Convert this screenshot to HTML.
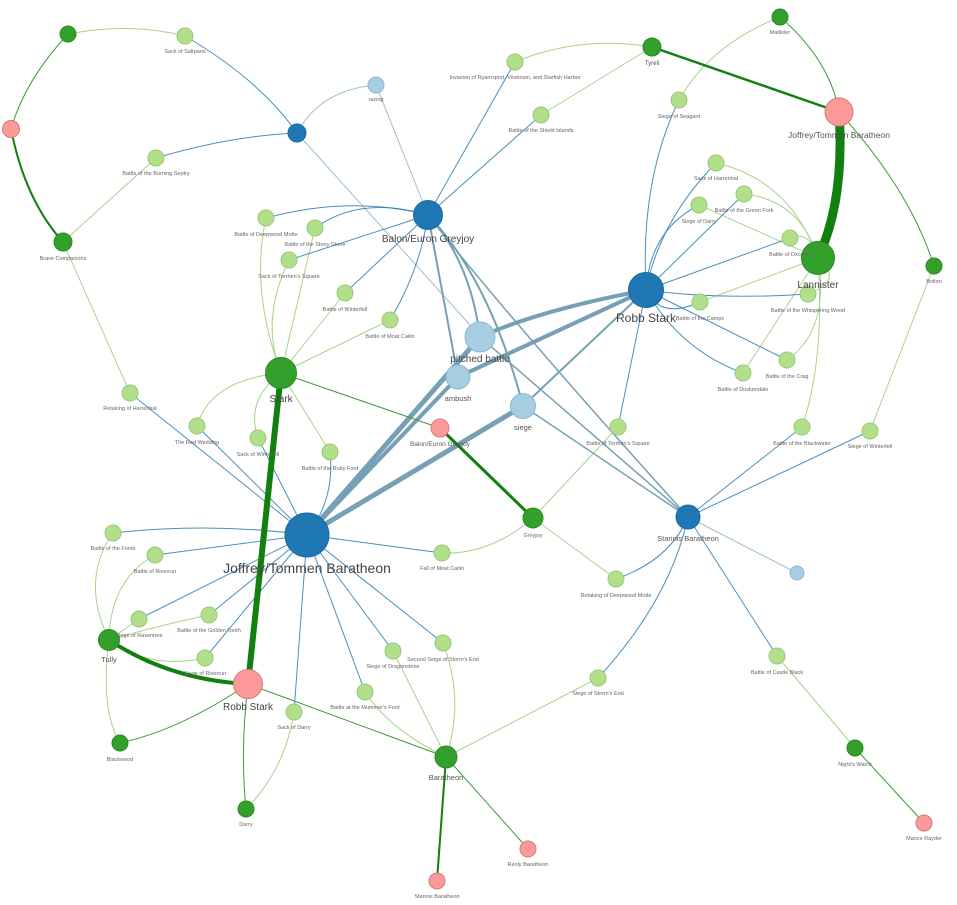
<!DOCTYPE html>
<html><head><meta charset="utf-8"><style>
html,body{margin:0;padding:0;background:#fff}
svg{display:block;font-family:"Liberation Sans",sans-serif}
.b{stroke:#2c7bb0;stroke-width:1;fill:none;opacity:.85}
.lb{stroke:#9cbfd3;stroke-width:1;fill:none}
.t{stroke:#76a0b5;fill:none}
.g{stroke:#3d9a35;stroke-width:1;fill:none}
.lg{stroke:#a8d38c;stroke-width:1;fill:none}
.G{stroke:#12800f;fill:none}
.n1{fill:#b2df8a;stroke:#98c878;stroke-width:1}
.n2{fill:#33a02c;stroke:#2a8a24;stroke-width:1}
.n3{fill:#1f78b4;stroke:#1a6aa0;stroke-width:1}
.n4{fill:#a6cee3;stroke:#8bb8d0;stroke-width:1}
.n5{fill:#fb9a99;stroke:#d87a79;stroke-width:1}
text{fill:#666;text-anchor:middle;font-size:5.5px}
.m{font-size:7.5px;fill:#555}
.L{font-size:11px;fill:#444}
.X{font-size:14px;fill:#444}
</style></head><body>
<svg width="957" height="905" viewBox="0 0 957 905">
<path class="lg" d="M68,34 Q130,22 185,36"/>
<path class="lg" d="M63,242 L156,158"/>
<path class="lg" d="M63,242 L130,393"/>
<path class="lg" d="M652,47 Q580,35 515,62"/>
<path class="lg" d="M652,47 L541,115"/>
<path class="lg" d="M780,17 Q710,45 679,100"/>
<path class="lg" d="M281,373 Q250,290 266,218"/>
<path class="lg" d="M281,373 L315,228"/>
<path class="lg" d="M281,373 Q260,320 289,260"/>
<path class="lg" d="M281,373 L345,293"/>
<path class="lg" d="M281,373 L390,320"/>
<path class="lg" d="M281,373 Q210,380 197,426"/>
<path class="lg" d="M281,373 Q245,400 258,438"/>
<path class="lg" d="M281,373 L330,452"/>
<path class="lg" d="M818,258 Q790,180 716,163"/>
<path class="lg" d="M818,258 Q800,200 744,194"/>
<path class="lg" d="M818,258 L699,205"/>
<path class="lg" d="M818,258 Q810,230 790,238"/>
<path class="lg" d="M818,258 L700,302"/>
<path class="lg" d="M818,258 Q845,280 808,294"/>
<path class="lg" d="M818,258 Q830,330 787,360"/>
<path class="lg" d="M818,258 L743,373"/>
<path class="lg" d="M818,258 Q825,360 802,427"/>
<path class="lg" d="M870,431 L934,266"/>
<path class="lg" d="M533,518 Q490,555 442,553"/>
<path class="lg" d="M533,518 L618,427"/>
<path class="lg" d="M533,518 L616,579"/>
<path class="lg" d="M109,640 Q80,580 113,533"/>
<path class="lg" d="M109,640 Q110,580 155,555"/>
<path class="lg" d="M109,640 Q160,625 209,615"/>
<path class="lg" d="M109,640 L139,619"/>
<path class="lg" d="M109,640 Q150,670 205,658"/>
<path class="lg" d="M109,640 Q100,710 120,743"/>
<path class="lg" d="M446,757 L393,651"/>
<path class="lg" d="M446,757 Q465,700 443,643"/>
<path class="lg" d="M446,757 Q390,730 365,692"/>
<path class="lg" d="M446,757 L598,678"/>
<path class="lg" d="M246,809 Q285,770 294,712"/>
<path class="lg" d="M855,748 L777,656"/>
<path class="b" d="M185,36 Q260,80 297,133"/>
<path class="b" d="M156,158 Q230,136 297,133"/>
<path class="lb" d="M297,133 Q320,90 376,85"/>
<path class="lb" d="M297,133 L470,325"/>
<path class="lb" d="M376,85 L428,215"/>
<path class="b" d="M266,218 Q350,195 428,215"/>
<path class="b" d="M315,228 Q360,195 428,215"/>
<path class="b" d="M289,260 L428,215"/>
<path class="b" d="M345,293 L428,215"/>
<path class="b" d="M390,320 Q420,270 428,215"/>
<path class="b" d="M515,62 L428,215"/>
<path class="b" d="M541,115 L428,215"/>
<path class="t" stroke-width="2" d="M428,215 Q470,260 480,337"/>
<path class="t" stroke-width="2" d="M428,215 L458,377"/>
<path class="t" stroke-width="2" d="M428,215 Q490,280 523,406"/>
<path class="t" stroke-width="1.5" d="M428,215 Q510,320 688,517"/>
<path class="b" d="M679,100 Q640,180 646,290"/>
<path class="b" d="M716,163 Q660,220 646,290"/>
<path class="b" d="M699,205 Q650,230 646,290"/>
<path class="b" d="M744,194 L646,290"/>
<path class="b" d="M790,238 L646,290"/>
<path class="b" d="M700,302 Q660,320 646,290"/>
<path class="b" d="M808,294 Q720,300 646,290"/>
<path class="b" d="M787,360 L646,290"/>
<path class="b" d="M743,373 Q680,350 646,290"/>
<path class="b" d="M618,427 L646,290"/>
<path class="t" stroke-width="4" d="M646,290 Q540,310 480,337"/>
<path class="t" stroke-width="2" d="M646,290 L523,406"/>
<path class="t" stroke-width="4" d="M646,290 L458,377"/>
<path class="t" stroke-width="1.5" d="M480,337 L688,517"/>
<path class="t" stroke-width="1.5" d="M523,406 L688,517"/>
<path class="b" d="M802,427 L688,517"/>
<path class="b" d="M870,431 L688,517"/>
<path class="lb" d="M797,573 L688,517"/>
<path class="b" d="M777,656 L688,517"/>
<path class="b" d="M598,678 Q670,600 688,517"/>
<path class="b" d="M616,579 Q670,560 688,517"/>
<path class="t" stroke-width="5" d="M307,535 L480,337"/>
<path class="t" stroke-width="4" d="M307,535 L458,377"/>
<path class="t" stroke-width="5" d="M307,535 L523,406"/>
<path class="b" d="M130,393 L307,535"/>
<path class="b" d="M197,426 L307,535"/>
<path class="b" d="M258,438 L307,535"/>
<path class="b" d="M330,452 Q335,500 307,535"/>
<path class="b" d="M113,533 Q210,522 307,535"/>
<path class="b" d="M155,555 L307,535"/>
<path class="b" d="M139,619 L307,535"/>
<path class="b" d="M209,615 L307,535"/>
<path class="b" d="M205,658 L307,535"/>
<path class="b" d="M442,553 L307,535"/>
<path class="b" d="M393,651 L307,535"/>
<path class="b" d="M443,643 L307,535"/>
<path class="b" d="M365,692 L307,535"/>
<path class="b" d="M294,712 L307,535"/>
<path class="g" d="M68,34 Q25,80 11,129"/>
<path class="G" stroke-width="2" d="M11,129 Q25,200 63,242"/>
<path class="G" stroke-width="2.5" d="M652,47 L839,112"/>
<path class="g" d="M780,17 Q830,60 839,112"/>
<path class="G" stroke-width="9" d="M839,112 Q845,200 818,258"/>
<path class="g" d="M839,112 Q910,190 934,266"/>
<path class="G" stroke-width="6" d="M281,373 L248,684"/>
<path class="g" d="M281,373 L440,428"/>
<path class="G" stroke-width="3" d="M440,428 L533,518"/>
<path class="G" stroke-width="4" d="M109,640 Q170,680 248,684"/>
<path class="g" d="M248,684 Q180,730 120,743"/>
<path class="g" d="M248,684 Q240,750 246,809"/>
<path class="g" d="M248,684 L446,757"/>
<path class="G" stroke-width="2" d="M446,757 L437,881"/>
<path class="g" d="M446,757 L528,849"/>
<path class="g" d="M855,748 L924,823"/>
<g class="n1">
<circle cx="185" cy="36" r="8"/><circle cx="156" cy="158" r="8"/><circle cx="266" cy="218" r="8"/><circle cx="315" cy="228" r="8"/><circle cx="289" cy="260" r="8"/><circle cx="345" cy="293" r="8"/><circle cx="390" cy="320" r="8"/><circle cx="515" cy="62" r="8"/><circle cx="541" cy="115" r="8"/><circle cx="679" cy="100" r="8"/><circle cx="716" cy="163" r="8"/><circle cx="744" cy="194" r="8"/><circle cx="699" cy="205" r="8"/><circle cx="790" cy="238" r="8"/><circle cx="700" cy="302" r="8"/><circle cx="808" cy="294" r="8"/><circle cx="787" cy="360" r="8"/><circle cx="743" cy="373" r="8"/><circle cx="130" cy="393" r="8"/><circle cx="197" cy="426" r="8"/><circle cx="258" cy="438" r="8"/><circle cx="330" cy="452" r="8"/><circle cx="618" cy="427" r="8"/><circle cx="802" cy="427" r="8"/><circle cx="870" cy="431" r="8"/><circle cx="113" cy="533" r="8"/><circle cx="155" cy="555" r="8"/><circle cx="442" cy="553" r="8"/><circle cx="616" cy="579" r="8"/><circle cx="139" cy="619" r="8"/><circle cx="209" cy="615" r="8"/><circle cx="205" cy="658" r="8"/><circle cx="393" cy="651" r="8"/><circle cx="443" cy="643" r="8"/><circle cx="365" cy="692" r="8"/><circle cx="294" cy="712" r="8"/><circle cx="598" cy="678" r="8"/><circle cx="777" cy="656" r="8"/>
</g>
<g class="n2">
<circle cx="68" cy="34" r="8"/><circle cx="63" cy="242" r="9"/><circle cx="652" cy="47" r="9"/><circle cx="780" cy="17" r="8"/><circle cx="818" cy="258" r="16.5"/><circle cx="934" cy="266" r="8"/><circle cx="281" cy="373" r="15.5"/><circle cx="533" cy="518" r="10"/><circle cx="109" cy="640" r="10.5"/><circle cx="120" cy="743" r="8"/><circle cx="446" cy="757" r="11"/><circle cx="855" cy="748" r="8"/><circle cx="246" cy="809" r="8"/>
</g>
<g class="n3">
<circle cx="297" cy="133" r="9"/><circle cx="428" cy="215" r="14.5"/><circle cx="646" cy="290" r="17.5"/><circle cx="688" cy="517" r="12"/><circle cx="307" cy="535" r="22"/>
</g>
<g class="n4">
<circle cx="376" cy="85" r="8"/><circle cx="480" cy="337" r="15"/><circle cx="458" cy="377" r="12"/><circle cx="523" cy="406" r="12.5"/><circle cx="797" cy="573" r="7"/>
</g>
<g class="n5">
<circle cx="11" cy="129" r="8.5"/><circle cx="839" cy="112" r="14"/><circle cx="440" cy="428" r="9"/><circle cx="248" cy="684" r="14.5"/><circle cx="924" cy="823" r="8"/><circle cx="528" cy="849" r="8"/><circle cx="437" cy="881" r="8"/>
</g>
<text x="185" y="53">Sack of Saltpans</text>
<text x="376" y="101">razing</text>
<text x="156" y="175">Battle of the Burning Septry</text>
<text x="63" y="260">Brave Companions</text>
<text x="266" y="236">Battle of Deepwood Motte</text>
<text x="315" y="246">Battle of the Stony Shore</text>
<text x="289" y="278">Sack of Torrhen's Square</text>
<text x="345" y="311">Battle of Winterfell</text>
<text x="390" y="338">Battle of Moat Cailin</text>
<text x="515" y="79">Invasion of Ryamsport, Vinetown, and Starfish Harbor</text>
<text x="541" y="132">Battle of the Shield Islands</text>
<text x="652" y="65" class="m" style="font-size:6px">Tyrell</text>
<text x="780" y="34">Mallister</text>
<text x="679" y="118">Siege of Seagard</text>
<text x="716" y="180">Sack of Harrenhal</text>
<text x="744" y="212">Battle of the Green Fork</text>
<text x="699" y="223">Siege of Darry</text>
<text x="790" y="256">Battle of Oxcross</text>
<text x="700" y="320">Battle of the Camps</text>
<text x="808" y="312">Battle of the Whispering Wood</text>
<text x="787" y="378">Battle of the Crag</text>
<text x="743" y="391">Battle of Duskendale</text>
<text x="934" y="283">Bolton</text>
<text x="130" y="410">Retaking of Harrenhal</text>
<text x="197" y="444">The Red Wedding</text>
<text x="258" y="456">Sack of Winterfell</text>
<text x="330" y="470">Battle of the Ruby Ford</text>
<text x="440" y="446" class="m" style="font-size:6.5px">Balon/Euron Greyjoy</text>
<text x="618" y="445">Battle of Torrhen's Square</text>
<text x="802" y="445">Battle of the Blackwater</text>
<text x="870" y="448">Siege of Winterfell</text>
<text x="533" y="537">Greyjoy</text>
<text x="113" y="550">Battle of the Fords</text>
<text x="155" y="573">Battle of Riverrun</text>
<text x="442" y="570">Fall of Moat Cailin</text>
<text x="616" y="597">Retaking of Deepwood Motte</text>
<text x="139" y="637">Siege of Raventree</text>
<text x="209" y="632">Battle of the Golden Tooth</text>
<text x="205" y="675">Siege of Riverrun</text>
<text x="393" y="668">Siege of Dragonstone</text>
<text x="443" y="661">Second Seige of Storm's End</text>
<text x="365" y="709">Battle at the Mummer's Ford</text>
<text x="294" y="729">Sack of Darry</text>
<text x="598" y="695">Siege of Storm's End</text>
<text x="777" y="674">Battle of Castle Black</text>
<text x="120" y="761">Blackwood</text>
<text x="855" y="766">Night's Watch</text>
<text x="924" y="840">Mance Rayder</text>
<text x="246" y="826">Darry</text>
<text x="528" y="866">Renly Baratheon</text>
<text x="437" y="898">Stannis Baratheon</text>
<text x="446" y="780" class="m">Baratheon</text>
<text x="109" y="662" class="m">Tully</text>
<text x="688" y="541" class="m">Stannis Baratheon</text>
<text x="523" y="430" class="m">siege</text>
<text x="458" y="401" class="m">ambush</text>
<text x="480" y="362" class="L" style="font-size:10px">pitched battle</text>
<text x="281" y="402" class="L" style="font-size:10px">Stark</text>
<text x="428" y="242" class="L" style="font-size:10px">Balon/Euron Greyjoy</text>
<text x="839" y="138" class="m" style="font-size:8.5px">Joffrey/Tommen Baratheon</text>
<text x="818" y="288" class="L" style="font-size:10px">Lannister</text>
<text x="646" y="322" class="L" style="font-size:12px">Robb Stark</text>
<text x="248" y="710" class="L" style="font-size:10px">Robb Stark</text>
<text x="307" y="573" class="X">Joffrey/Tommen Baratheon</text>
</svg>
</body></html>
